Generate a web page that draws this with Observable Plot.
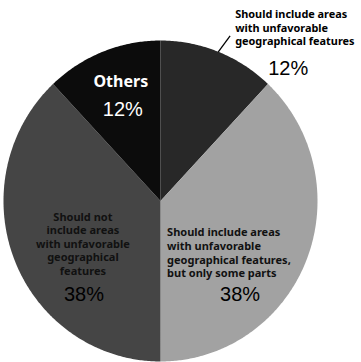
<!DOCTYPE html>
<html>
<head>
<meta charset="utf-8">
<script src="https://cdn.jsdelivr.net/npm/d3@7"></script>
<script src="https://cdn.jsdelivr.net/npm/@observablehq/plot@0.6"></script>
<style>
  html, body { margin: 0; padding: 0; background: #ffffff; }
  #chart { width: 361px; height: 362px; }
</style>
</head>
<body>
<div id="chart"></div>
<script>
// ---- data ----
const categories = [
  "Should include areas with unfavorable geographical features",
  "Should include areas with unfavorable geographical features, but only some parts",
  "Should not include areas with unfavorable geographical features",
  "Others"
];
const shares = [12, 38, 38, 12];
const labelTexts = [
  "Should include areas\nwith unfavorable\ngeographical features",
  "Should include areas\nwith unfavorable\ngeographical features,\nbut only some parts",
  "Should not\ninclude areas\nwith unfavorable\ngeographical\nfeatures",
  "Others"
];
const pctLabels = ["12%", "38%", "38%", "12%"];

// ---- styles ----
const sliceColors = ["#282828", "#a2a2a2", "#454545", "#0c0c0c"];

// ---- geometry from data ----
const arcs = d3.pie().value(d => d).sort(null)(shares);
const polyPts = [];
arcs.forEach((a, i) => {
  const key = categories[i];
  polyPts.push({key, x: 0, y: 0});
  const n = Math.max(2, Math.ceil((a.endAngle - a.startAngle) / 0.01));
  for (let k = 0; k <= n; k++) {
    const t = a.startAngle + (a.endAngle - a.startAngle) * k / n;
    polyPts.push({key, x: Math.sin(t), y: Math.cos(t)});
  }
  polyPts.push({key, x: 0, y: 0});
});
const mid = a => (a.startAngle + a.endAngle) / 2;
const cent = arcs.map((a, i) => ({
  i, x: 0.6 * Math.sin(mid(a)), y: 0.6 * Math.cos(mid(a))
}));

// label offsets (layout)
const labelLayout = [
  {dx: 40, dy: -84, anchor: "start", size: 10.9, lh: 1.24, fill: "#000", weight: "bold", ls: "0.35px"},
  {dx: -81, dy: 16, anchor: "start", size: 11, lh: 1.24, fill: "#111", weight: "bold", ls: "0px"},
  {dx: 10, dy: 7, anchor: "middle", size: 11, lh: 1.24, fill: "#111", weight: "bold", ls: "0px"},
  {dx: -5, dy: -30, anchor: "middle", size: 16, lh: 1.1, fill: "#ffffff", weight: "bold", ls: "0px"}
];
const pctLayout = [
  {dx: 93, dy: -43, fill: "#000"},
  {dx: -8, dy: 58, fill: "#000"},
  {dx: 11, dy: 58, fill: "#000"},
  {dx: -3, dy: -2, fill: "#ffffff"}
];

const a0 = arcs[0];
const leader = [{
  x1: Math.sin(mid(a0)), y1: Math.cos(mid(a0)),
  x2: 1.12 * Math.sin(mid(a0) + 0.03), y2: 1.12 * Math.cos(mid(a0) + 0.03)
}];

const marks = [
  Plot.line(polyPts, {x: "x", y: "y", z: "key", fill: "key", stroke: null, curve: "linear"}),
  Plot.link(leader, {x1: "x1", y1: "y1", x2: "x2", y2: "y2", stroke: "#000", strokeWidth: 1.3})
];
cent.forEach((c, i) => {
  const L = labelLayout[i];
  marks.push(Plot.text([c], {
    x: "x", y: "y", text: () => labelTexts[i],
    dx: L.dx, dy: L.dy, textAnchor: L.anchor, lineAnchor: "middle",
    lineHeight: L.lh, fontSize: L.size, fontWeight: L.weight, fill: L.fill,
    fontFamily: "'Noto Sans', sans-serif", style: `letter-spacing:${L.ls}`
  }));
  const P = pctLayout[i];
  marks.push(Plot.text([c], {
    x: "x", y: "y", text: () => pctLabels[i],
    dx: P.dx, dy: P.dy, textAnchor: "middle", lineAnchor: "middle",
    fontSize: 20, fill: P.fill, fontFamily: "'Liberation Sans', Arial, sans-serif"
  }));
});

const chart = Plot.plot({
  width: 361,
  height: 362,
  margin: 0,
  x: {domain: [-1, 1], range: [3, 317], axis: null},
  y: {domain: [-1, 1], range: [361, 40], axis: null},
  color: {domain: categories, range: sliceColors},
  style: {background: "#ffffff", overflow: "visible"},
  marks
});
document.getElementById("chart").appendChild(chart);
</script>
</body>
</html>
